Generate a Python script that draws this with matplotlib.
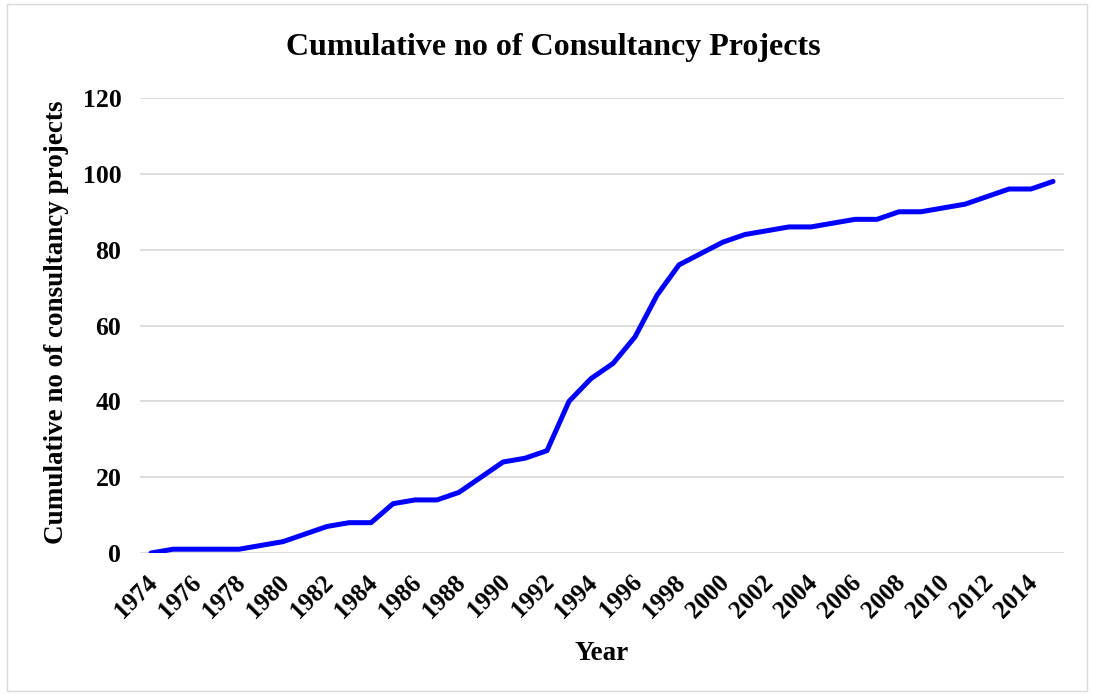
import matplotlib
matplotlib.use("Agg")
import matplotlib.pyplot as plt
import matplotlib.transforms as mtransforms
from matplotlib.patches import Rectangle

years = list(range(1974, 2016))
cumulative = [0, 1, 1, 1, 1, 2, 3, 5, 7, 8, 8, 13, 14, 14, 16, 20, 24, 25, 27, 40,
              46, 50, 57, 68, 76, 79, 82, 84, 85, 86, 86, 87, 88, 88, 90, 90, 91, 92,
              94, 96, 96, 98]
yticks = [0, 20, 40, 60, 80, 100, 120]
title = "Cumulative no of Consultancy Projects"
xlabel = "Year"
ylabel = "Cumulative no of consultancy projects"

plt.rcParams['font.family'] = ['Liberation Serif', 'DejaVu Serif']
plt.rcParams['font.weight'] = 'bold'

fig = plt.figure(figsize=(10.94, 6.95), dpi=100)
ax = fig.add_axes([0.128, 0.2043, 0.8446, 0.6547])

x = list(range(len(years)))
ax.plot(x, cumulative, color='#0000FF', lw=3.6, solid_capstyle='round', solid_joinstyle='round', zorder=3)

ax.set_xlim(-0.5, len(years) - 0.5)
ax.set_ylim(0, 120)
ax.set_yticks(yticks)
ax.set_yticklabels([str(v) for v in yticks], fontsize=18.5, fontweight='bold')
ax.set_xticks(x[::2])
ax.set_xticklabels([str(y) for y in years[::2]], rotation=45, ha='right', va='top',
                   rotation_mode='anchor', fontsize=18, fontweight='bold')
ax.tick_params(length=0)
ax.tick_params(axis='y', pad=13.5)
ax.tick_params(axis='x', pad=4)
offset = mtransforms.ScaledTranslation(-5 / 100, -12 / 100, fig.dpi_scale_trans)
for lbl in ax.get_xticklabels():
    lbl.set_transform(lbl.get_transform() + offset)
ax.grid(axis='y', color='#d9d9d9', lw=1.3)
ax.set_axisbelow(True)
for s in ax.spines.values():
    s.set_visible(False)

fig.text(0.506, 0.931, title, ha='center', va='center', fontsize=23, fontweight='bold')
fig.text(0.55, 0.06, xlabel, ha='center', va='center', fontsize=19.5, fontweight='bold')
fig.text(0.052, 0.537, ylabel, ha='center', va='center', rotation=90, fontsize=19.5, fontweight='bold')

fig.patches.append(Rectangle((0.006, 0.006), 0.988, 0.988, transform=fig.transFigure,
                             fill=False, edgecolor='#d9d9d9', lw=1.0))

fig.savefig("out.png", dpi=100)
